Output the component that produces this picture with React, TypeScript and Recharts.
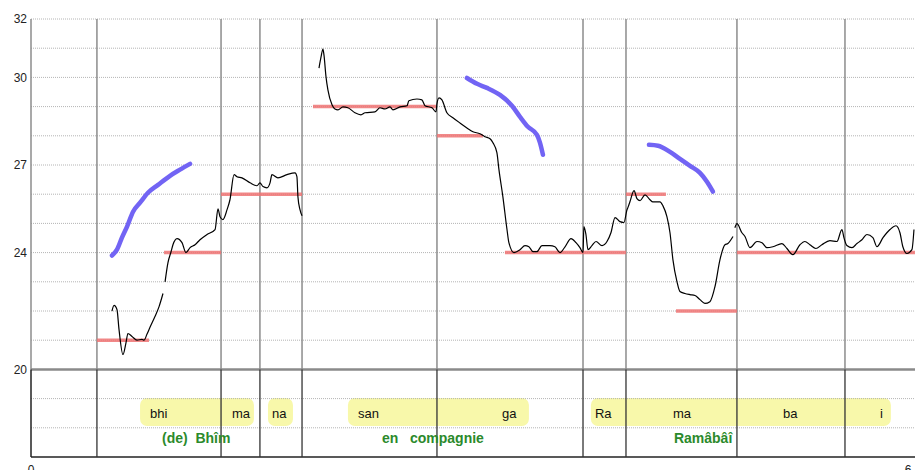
import React from 'react';
import { ComposedChart, Line, Scatter, XAxis, YAxis, ReferenceLine, ReferenceArea } from 'recharts';

type Pt = [number, number];

// black pitch contour, split where the trace breaks
const contourBhi: Pt[] = [
  [0.554, 22.0], [0.568, 22.19], [0.588, 22.05], [0.602, 21.37], [0.629, 20.51], [0.65, 20.92],
  [0.663, 21.23], [0.691, 21.13], [0.725, 21.0], [0.759, 21.03], [0.773, 21.0], [0.793, 21.2],
  [0.814, 21.44], [0.848, 21.81], [0.876, 22.15], [0.903, 22.6],
];
const contourMaNa: Pt[] = [
  [0.917, 23.0], [0.937, 23.66], [0.958, 24.03], [0.971, 24.27], [0.999, 24.48], [1.033, 24.34],
  [1.06, 24.0], [1.088, 24.17], [1.122, 24.27], [1.156, 24.44], [1.204, 24.62], [1.259, 24.79],
  [1.279, 25.5], [1.293, 25.23], [1.313, 25.13], [1.341, 25.47], [1.361, 25.81], [1.389, 26.67],
  [1.409, 26.6], [1.443, 26.56], [1.498, 26.39], [1.546, 26.29], [1.566, 26.39], [1.587, 26.26],
  [1.614, 26.22], [1.635, 26.39], [1.648, 26.67], [1.689, 26.56], [1.751, 26.67], [1.806, 26.73],
  [1.819, 26.6], [1.826, 25.91], [1.84, 25.47], [1.854, 25.26],
];
const contourSangaRama: Pt[] = [
  [1.97, 30.32], [1.984, 30.7], [1.997, 30.97], [2.004, 30.77], [2.018, 30.02], [2.031, 29.57],
  [2.059, 29.06], [2.079, 28.92], [2.1, 28.89], [2.134, 28.99], [2.168, 28.96], [2.216, 28.79],
  [2.257, 28.72], [2.285, 28.79], [2.353, 28.82], [2.387, 28.96], [2.421, 28.92], [2.456, 28.99],
  [2.476, 28.89], [2.524, 28.99], [2.572, 29.03], [2.585, 29.2], [2.64, 29.26], [2.674, 29.23],
  [2.695, 29.03], [2.743, 28.96], [2.77, 28.82], [2.777, 29.1], [2.791, 29.3], [2.811, 29.23],
  [2.845, 28.79], [2.886, 28.62], [2.934, 28.44], [2.982, 28.27], [3.023, 28.14], [3.071, 28.07],
  [3.105, 27.97], [3.14, 27.9], [3.16, 27.76], [3.187, 27.42], [3.201, 26.84], [3.228, 25.91],
  [3.256, 24.79], [3.269, 24.34], [3.304, 24.0], [3.345, 24.1], [3.379, 24.24], [3.406, 24.2],
  [3.434, 24.03], [3.461, 24.03], [3.495, 24.24], [3.55, 24.24], [3.584, 24.2], [3.618, 24.0],
  [3.653, 24.2], [3.694, 24.48], [3.728, 24.34], [3.755, 24.17], [3.776, 24.0], [3.782, 24.89],
  [3.796, 24.62], [3.81, 24.1], [3.837, 24.24], [3.865, 24.38], [3.906, 24.24], [3.94, 24.38],
  [3.967, 24.68], [3.995, 25.2], [4.029, 25.06], [4.056, 25.03], [4.077, 25.47], [4.083, 25.54],
  [4.097, 25.74], [4.125, 26.12], [4.145, 25.85], [4.166, 25.78], [4.2, 25.98], [4.234, 25.81],
  [4.254, 25.74], [4.302, 25.74], [4.323, 25.6], [4.35, 25.23], [4.371, 24.68], [4.391, 23.76],
  [4.419, 23.0], [4.439, 22.67], [4.473, 22.6], [4.508, 22.56], [4.542, 22.53], [4.576, 22.39],
  [4.61, 22.26], [4.644, 22.32], [4.679, 22.84], [4.713, 23.76], [4.747, 24.27], [4.767, 24.31],
  [4.802, 24.55],
];
const contourBai: Pt[] = [
  [4.815, 24.85], [4.829, 24.99], [4.863, 24.68], [4.884, 24.55], [4.918, 24.17], [4.966, 24.38],
  [5.0, 24.34], [5.034, 24.17], [5.075, 24.2], [5.137, 24.31], [5.171, 24.14], [5.212, 23.93],
  [5.26, 24.27], [5.294, 24.38], [5.328, 24.27], [5.369, 24.14], [5.41, 24.27], [5.465, 24.41],
  [5.513, 24.38], [5.547, 24.79], [5.561, 24.51], [5.581, 24.24], [5.616, 24.17], [5.65, 24.31],
  [5.684, 24.44], [5.718, 24.62], [5.759, 24.51], [5.787, 24.2], [5.828, 24.51], [5.876, 24.79],
  [5.917, 24.92], [5.944, 24.68], [5.964, 24.2], [5.992, 23.97], [6.026, 24.1], [6.04, 24.79],
];

// purple melodic gestures
const glideBhim: Pt[] = [
  [0.554, 23.9], [0.588, 24.1], [0.622, 24.51], [0.657, 24.89], [0.698, 25.4], [0.746, 25.71],
  [0.8, 26.05], [0.869, 26.32], [0.951, 26.63], [1.019, 26.84], [1.088, 27.04],
];
const glideSanga: Pt[] = [
  [2.982, 29.98], [3.051, 29.78], [3.119, 29.64], [3.208, 29.4], [3.29, 29.03], [3.345, 28.65],
  [3.399, 28.31], [3.461, 28.03], [3.482, 27.76], [3.502, 27.35],
];
const glideRama: Pt[] = [
  [4.227, 27.69], [4.289, 27.66], [4.371, 27.45], [4.439, 27.21], [4.508, 26.97], [4.576, 26.73],
  [4.624, 26.43], [4.665, 26.09],
];

// red note levels: [start, end, level]
const noteStart = [0.451, 0.91, 1.3, 1.929, 2.777, 3.242, 4.07, 4.412, 4.829];
const noteEnd = [0.807, 1.3, 1.854, 2.77, 3.092, 4.07, 4.343, 4.829, 6.047];
const noteLevel = [21, 24, 26, 29, 28, 24, 26, 22, 24];

// syllable boundaries
const boundaries = [0.451, 1.3, 1.566, 1.854, 2.777, 3.776, 4.07, 4.829, 5.568];

// grid levels
const gridLevels = [18, 19, 21, 22, 23, 24, 25, 26, 27, 28, 29, 30, 31, 32];
const yTicks = [20, 24, 27, 30, 32];
const xTicks = [0, 6];

// lyric boxes
const boxStart = [0.746, 1.621, 2.168, 3.83];
const boxEnd = [1.525, 1.792, 3.406, 5.882];

const syllableText = ['bhi', 'ma', 'na', 'san', 'ga', 'Ra', 'ma', 'ba', 'i'];
const syllableTime = [0.814, 1.375, 1.648, 2.237, 3.222, 3.858, 4.391, 5.144, 5.807];

const glossText = ['(de)  Bhîm', 'en   compagnie', 'Ramâbâî'];
const glossTime = [0.896, 2.401, 4.398];

const FONT = 'Liberation Sans, Arial, Helvetica, sans-serif';

const toRows = (pts: Pt[]) => pts.map(([t, v]) => ({ t, v }));

const syllableRows = syllableText.map((label, i) => ({ t: syllableTime[i], v: 18.5, label }));
const glossRows = glossText.map((label, i) => ({ t: glossTime[i], v: 17.65, label }));

const SyllableShape = (p: any) => (
  <text x={p.cx} y={p.cy} dy="0.35em" fontSize={13} fill="#111" fontFamily={FONT} textAnchor="start">
    {p.payload.label}
  </text>
);
const GlossShape = (p: any) => (
  <text x={p.cx} y={p.cy} dy="0.35em" fontSize={14} fontWeight="bold" fill="#2b8a2b" fontFamily={FONT}
    textAnchor="start" style={{ whiteSpace: 'pre' }}>
    {p.payload.label}
  </text>
);
const BoxShape = (p: any) => (
  <rect x={p.x} y={p.y} width={p.width} height={p.height} rx={7} ry={7} fill="#f8f8aa" />
);

export default function App() {
  return (
    <div style={{ position: 'absolute', left: 0, top: 0, background: '#fff' }}>
      <ComposedChart width={915} height={470} margin={{ top: 19, right: 0, bottom: 0, left: 0 }}>
        <XAxis type="number" dataKey="t" domain={[0, 6.047]} ticks={xTicks} allowDataOverflow
          axisLine={false} tickLine={false} height={13}
          tick={{ fontSize: 12, fill: '#222', fontFamily: FONT }} />
        <YAxis type="number" dataKey="v" domain={[17, 32]} ticks={yTicks} allowDataOverflow
          axisLine={false} tickLine={false} width={31} tickSize={2} tickMargin={2}
          tick={{ fontSize: 12, fill: '#222', fontFamily: FONT }} />

        {boxStart.map((s, i) => (
          <ReferenceArea key={'box' + i} x1={s} x2={boxEnd[i]} y1={18.06} y2={19.02} shape={BoxShape} ifOverflow="visible" />
        ))}

        {gridLevels.map((g) => (
          <ReferenceLine key={'g' + g} y={g} stroke="#b4b4b4" strokeDasharray="1 1" strokeWidth={1} />
        ))}
        <ReferenceLine y={20} stroke="#8a8a8a" strokeWidth={2.5} />
        <ReferenceLine y={17} stroke="#222" strokeWidth={1.5} />
        <ReferenceLine segment={[{ x: 0, y: 20 }, { x: 0, y: 32 }]} stroke="#8c8c8c" strokeWidth={1.5} />
        <ReferenceLine segment={[{ x: 0, y: 17 }, { x: 0, y: 20 }]} stroke="#222" strokeWidth={1.5} />

        {boundaries.map((b, i) => (
          <ReferenceLine key={'vu' + i} segment={[{ x: b, y: 20 }, { x: b, y: 32 }]} stroke="#8c8c8c" strokeWidth={1.5} />
        ))}
        {boundaries.map((b, i) => (
          <ReferenceLine key={'vl' + i} segment={[{ x: b, y: 17 }, { x: b, y: 20 }]} stroke="#333" strokeWidth={1.3} />
        ))}

        {noteStart.map((s, i) => (
          <Line key={'n' + i} data={[{ t: s, v: noteLevel[i] }, { t: noteEnd[i], v: noteLevel[i] }]}
            dataKey="v" type="linear" stroke="#ef7373" strokeOpacity={0.85} strokeWidth={3.5}
            dot={false} activeDot={false} isAnimationActive={false} />
        ))}

        {[glideBhim, glideSanga, glideRama].map((g, i) => (
          <Line key={'p' + i} data={toRows(g)} dataKey="v" type="monotone" stroke="#7264f4"
            strokeWidth={4.5} strokeLinecap="round" dot={false} activeDot={false} isAnimationActive={false} />
        ))}

        {[contourBhi, contourMaNa, contourSangaRama, contourBai].map((c, i) => (
          <Line key={'c' + i} data={toRows(c)} dataKey="v" type="monotone" stroke="#000"
            strokeWidth={1.2} dot={false} activeDot={false} isAnimationActive={false} />
        ))}

        <Scatter data={syllableRows} dataKey="v" shape={SyllableShape} isAnimationActive={false} />
        <Scatter data={glossRows} dataKey="v" shape={GlossShape} isAnimationActive={false} />
      </ComposedChart>
    </div>
  );
}
